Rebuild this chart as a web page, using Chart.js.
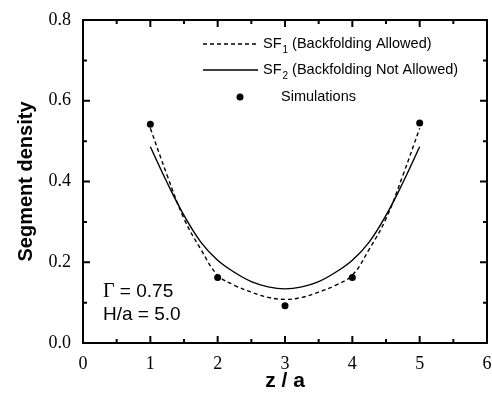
<!DOCTYPE html>
<html>
<head>
<meta charset="utf-8">
<script src="https://cdn.jsdelivr.net/npm/chart.js@4.4.0/dist/chart.umd.min.js"></script>
<style>
  html, body { margin: 0; padding: 0; background: #fff; }
  #wrap { width: 492px; height: 398px; }
</style>
</head>
<body>
<div id="wrap"><canvas id="chart" width="492" height="398"></canvas></div>
<script>
// curve positions (z/a) and values
const zCurve = [1, 1.25, 1.5, 1.75, 2, 2.25, 2.5, 2.75, 3, 3.25, 3.5, 3.75, 4, 4.25, 4.5, 4.75, 5];
const sf1 = [0.532, 0.415, 0.308, 0.232, 0.168, 0.143, 0.126, 0.113, 0.108, 0.113, 0.126, 0.143, 0.168, 0.232, 0.308, 0.415, 0.532];
const sf2 = [0.486, 0.397, 0.316, 0.250, 0.205, 0.175, 0.152, 0.139, 0.134, 0.139, 0.152, 0.175, 0.205, 0.250, 0.316, 0.397, 0.486];
const simZ = [1, 2, 3, 4, 5];
const simDensity = [0.542, 0.162, 0.092, 0.162, 0.545];
const xTicks = [0, 1, 2, 3, 4, 5, 6];
const yTicks = [0.0, 0.2, 0.4, 0.6, 0.8];

const toPts = (xs, ys) => xs.map((x, i) => ({ x: x, y: ys[i] }));
const sans = '"Liberation Sans", Arial, sans-serif';
const serif = '"Liberation Serif", "Times New Roman", serif';

// inward ticks on all four sides + frame, legend and note text
const framePlugin = {
    id: 'frame',
    afterDraw(chart) {
        const ctx = chart.ctx;
        const a = chart.chartArea;
        const xs = chart.scales.x, ys = chart.scales.y;
        ctx.save();
        ctx.strokeStyle = '#000';
        ctx.lineWidth = 2;
        ctx.strokeRect(a.left, a.top, a.right - a.left, a.bottom - a.top);

        for (let v = 0; v <= 6.001; v += 0.5) {
            const px = xs.getPixelForValue(v);
            const len = Math.abs(v - Math.round(v)) < 0.01 ? 7 : 4;
            ctx.beginPath();
            ctx.moveTo(px, a.bottom); ctx.lineTo(px, a.bottom - len);
            ctx.moveTo(px, a.top); ctx.lineTo(px, a.top + len);
            ctx.stroke();
        }
        for (let v = 0; v <= 0.8001; v += 0.1) {
            const py = ys.getPixelForValue(v);
            const len = Math.round(v * 10) % 2 === 0 ? 7 : 4;
            ctx.beginPath();
            ctx.moveTo(a.left, py); ctx.lineTo(a.left + len, py);
            ctx.moveTo(a.right, py); ctx.lineTo(a.right - len, py);
            ctx.stroke();
        }

        // legend
        ctx.lineWidth = 1.3;
        ctx.setLineDash([4, 3]);
        ctx.beginPath(); ctx.moveTo(203, 44); ctx.lineTo(258, 44); ctx.stroke();
        ctx.setLineDash([]);
        ctx.beginPath(); ctx.moveTo(203, 70); ctx.lineTo(258, 70); ctx.stroke();
        ctx.beginPath(); ctx.arc(240, 97, 3.5, 0, Math.PI * 2); ctx.fillStyle = '#000'; ctx.fill();

        ctx.textBaseline = 'middle';
        ctx.textAlign = 'left';
        const rows = [['1', '(Backfolding Allowed)', 44], ['2', '(Backfolding Not Allowed)', 70]];
        rows.forEach(r => {
            ctx.font = '14.5px ' + sans;
            let x = 263;
            ctx.fillText('SF', x, r[2]);
            x += ctx.measureText('SF').width;
            ctx.font = '10px ' + sans;
            ctx.fillText(r[0], x + 1, r[2] + 6);
            x += ctx.measureText(r[0]).width + 5;
            ctx.font = '14.5px ' + sans;
            ctx.fillText(r[1], x, r[2]);
        });
        ctx.fillText('Simulations', 281, 97);

        // parameters
        ctx.font = '20px ' + serif;
        ctx.fillText('\u0393', 103, 292);
        const gw = ctx.measureText('\u0393').width;
        ctx.font = '19px ' + sans;
        ctx.fillText(' = 0.75', 103 + gw, 292);
        ctx.fillText('H/a = 5.0', 103, 315);
        ctx.restore();
    }
};

new Chart(document.getElementById('chart').getContext('2d'), {
    type: 'scatter',
    data: {
        datasets: [
            { label: 'SF1 (Backfolding Allowed)', data: toPts(zCurve, sf1), showLine: true, borderColor: '#000', borderWidth: 1.4, borderDash: [4, 3], pointRadius: 0, tension: 0.4, fill: false },
            { label: 'SF2 (Backfolding Not Allowed)', data: toPts(zCurve, sf2), showLine: true, borderColor: '#000', borderWidth: 1.4, pointRadius: 0, tension: 0.4, fill: false },
            { label: 'Simulations', data: toPts(simZ, simDensity), showLine: false, pointRadius: 3.5, pointBackgroundColor: '#000', pointBorderColor: '#000', pointBorderWidth: 0 }
        ]
    },
    options: {
        responsive: false,
        animation: false,
        layout: { padding: { top: 20, right: 5, left: 0, bottom: 0 } },
        plugins: { legend: { display: false }, tooltip: { enabled: false } },
        scales: {
            x: {
                type: 'linear', min: 0, max: 6,
                afterBuildTicks: s => { s.ticks = xTicks.map(v => ({ value: v })); },
                afterFit: s => { s.height = 55; s.paddingLeft = 0; s.paddingRight = 0; },
                grid: { display: false, drawTicks: false },
                border: { display: false },
                ticks: { color: '#000', padding: 10, font: { family: serif, size: 18 }, maxRotation: 0 },
                title: { display: true, text: 'z / a', color: '#000', padding: { top: 2 }, font: { family: sans, size: 21, weight: 'bold' } }
            },
            y: {
                type: 'linear', min: 0, max: 0.8,
                afterBuildTicks: s => { s.ticks = yTicks.map(v => ({ value: v })); },
                afterFit: s => { s.width = 83; s.paddingTop = 0; s.paddingBottom = 0; },
                grid: { display: false, drawTicks: false },
                border: { display: false },
                ticks: { color: '#000', padding: 12, font: { family: serif, size: 18 }, callback: v => v.toFixed(1) },
                title: { display: true, text: 'Segment density', color: '#000', padding: { top: 14, bottom: 4 }, font: { family: sans, size: 20, weight: 'bold' } }
            }
        }
    },
    plugins: [framePlugin]
});
</script>
</body>
</html>
